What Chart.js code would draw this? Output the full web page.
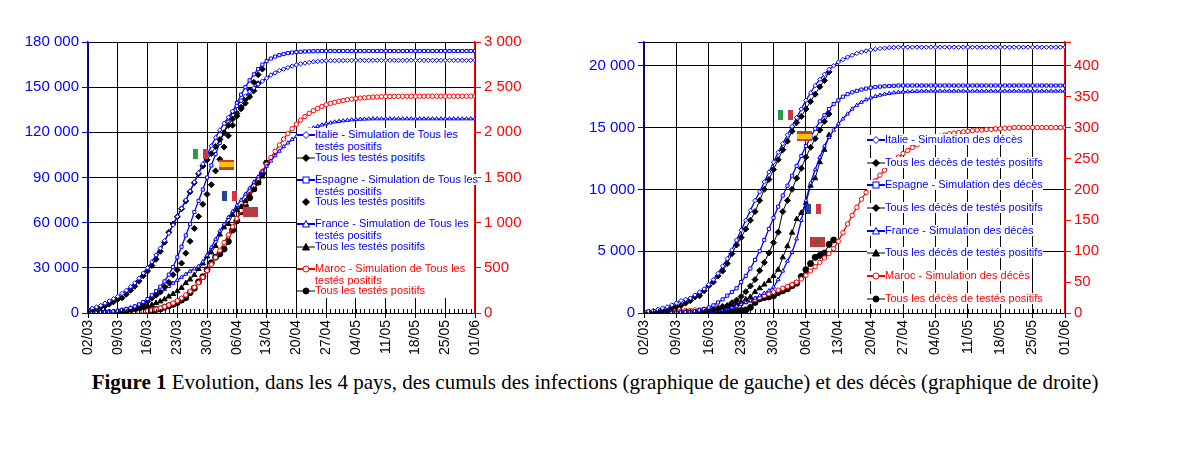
<!DOCTYPE html>
<html>
<head>
<meta charset="UTF-8">
<title>Figure 1</title>
<script src="https://cdn.jsdelivr.net/npm/chart.js"></script>
<style>
  body { margin: 0; background: #fff; width: 1190px; height: 460px; position: relative; overflow: hidden; font-family: Arial, "Liberation Sans", sans-serif; }
  .box { position: absolute; }
  .legend { position: absolute; font-size: 11px; line-height: 11px; }
  .legend div { position: absolute; white-space: nowrap; background: #fff; }
  .legend svg { display: block; }
  .flag { position: absolute; height: 10px; width: 15px; }
  #caption { position: absolute; left: 0; width: 1190px; top: 370px; text-align: center; font-family: "Liberation Serif", "Times New Roman", serif; font-size: 21px; }
</style>
</head>
<body>
<div class="box" style="left:0;top:30px;width:560px;height:340px"><canvas id="left"></canvas></div>
<div class="box" style="left:580px;top:30px;width:550px;height:340px"><canvas id="right"></canvas></div>
<div id="caption"><b>Figure 1</b> Evolution, dans les 4 pays, des cumuls des infections (graphique de gauche) et des décès (graphique de droite)</div>

<script>
// jours depuis le 02/03 ; étiquettes hebdomadaires
const weekLabels = ['02/03','09/03','16/03','23/03','30/03','06/04','13/04','20/04','27/04','04/05','11/05','18/05','25/05','01/06'];

// --- Infections (milliers, axe gauche) ---
const itSimCas = [2,3,4,5,6.5,8,9.5,11,13,15,17.5,20,23,26.5,30,34,38.5,43,48,53,58.5,64,69.5,75,81,87,93,99,105,111,116.5,121.5,126,130,134,137.5,141,144,147,149.5,152,154,156,158,159.5,161,162,163,164,164.8,165.5,166,166.4,166.8,167.1,167.3,167.5,167.6,167.6,167.7,167.7,167.7,167.8,167.8,167.8,167.8,167.8,167.8,167.8,167.8,167.8,167.8,167.8,167.8,167.8,167.8,167.8,167.8,167.8,167.8,167.8,167.8,167.8,167.8,167.8,167.8,167.8,167.8,167.8,167.8,167.8,167.8];
const itObsCas = [2.0,2.5,3.1,3.9,4.6,5.9,7.4,9.2,10.1,12.5,15.1,17.7,21.2,24.7,27.9,31.5,35.7,41.0,47.0,53.6,59.1,63.9,69.2,74.4,80.5,86.5,92.5,97.7,101.7,105.8,110.6,115.2,119.8,124.6,128.9,132.5,135.6,139.4,143.6,147.6,152.3];
const esSimCas = [0.1,0.2,0.3,0.4,0.6,0.8,1.1,1.5,2,2.6,3.4,4.4,5.7,7.3,9.3,11.8,14.5,17.5,21,25.5,30.5,37,44,51.5,59,67,74.5,82,90,98,105.5,113,120,127,133.5,139.5,145,150,154.5,158.5,162,165,167.3,169,170.3,171.3,172,172.6,173,173.3,173.5,173.7,173.8,173.9,173.9,174,174,174,174,174,174,174,174,174,174,174,174,174,174,174,174,174,174,174,174,174,174,174,174,174,174,174,174,174,174,174,174,174,174,174,174,174];
const esObsCas = [0.1,0.2,0.2,0.3,0.4,0.5,0.6,0.7,1.2,1.7,2.3,3.1,4.2,5.8,7.8,9.9,11.8,13.9,17.4,20.4,25.4,28.6,33.1,39.7,47.6,56.2,64.1,72.2,78.8,85.2,94.4,102.1,110.2,117.7,124.7,130.8,136.7,141.9,148.2,153.2,158.3,162.0];
const frSimCas = [0.2,0.3,0.4,0.5,0.7,0.9,1.2,1.6,2.1,2.7,3.5,4.4,5.5,6.8,8.3,10,11.8,13.7,15.7,17.7,19.8,21.8,23.8,25.8,27.8,29.3,31,34,38.5,43.5,49,54.5,59,63.5,67.5,71.5,75,79,83,87,90.5,94,97.5,101,104.5,107.5,110.5,113,115.3,117.3,119,120.5,121.8,123,124,124.9,125.7,126.3,126.9,127.3,127.7,128,128.3,128.5,128.7,128.8,128.9,129,129,129,129,129,129,129,129,129,129,129,129,129,129,129,129,129,129,129,129,129,129,129,129,129];
const frObsCas = [0.1,0.1,0.2,0.2,0.3,0.4,0.6,0.9,1.2,1.4,1.8,2.3,2.9,3.7,4.5,5.4,6.6,7.7,9.1,10.9,12.6,14.5,16.7,19.9,22.3,25.2,29.2,32.9,37.6,40.2,44.5,52.1,56.9,59.1,65.2,68.6,70.5,74.4,78.2,82.0,86.3,90.7];
// Maroc : unités de l'axe droit
const maSimCas = [0,0,0,0,0,1,1,2,2,3,5,8,12,17,24,32,42,55,70,88,110,135,165,200,240,285,335,395,470,540,615,695,780,865,955,1045,1135,1225,1315,1405,1490,1570,1645,1720,1790,1860,1925,1985,2040,2090,2135,2175,2210,2240,2265,2287,2305,2320,2333,2344,2353,2361,2368,2374,2379,2383,2387,2390,2392,2394,2396,2397,2398,2398,2399,2399,2399,2400,2400,2400,2400,2400,2400,2400,2400,2400,2400,2400,2400,2400,2400,2400];
const maObsCas = [1,1,1,2,2,2,2,2,2,2,3,5,6,8,18,28,38,44,63,79,96,115,143,170,225,275,345,402,479,556,617,654,708,791,919,1021,1120,1184,1275,1374,1448,1545,1661];

// --- Décès (milliers, axe gauche) ---
const itSimDc = [0.1,0.15,0.2,0.3,0.4,0.5,0.65,0.8,1.0,1.1,1.2,1.45,1.7,1.95,2.3,2.7,3.2,3.8,4.4,5.1,5.9,6.7,7.5,8.3,9.1,9.8,10.6,11.4,12.2,13,13.7,14.4,15.1,15.8,16.5,17.2,17.8,18.4,18.9,19.3,19.7,20.0,20.3,20.5,20.7,20.85,21.0,21.1,21.2,21.28,21.34,21.39,21.43,21.46,21.48,21.5,21.5,21.5,21.5,21.5,21.5,21.5,21.5,21.5,21.5,21.5,21.5,21.5,21.5,21.5,21.5,21.5,21.5,21.5,21.5,21.5,21.5,21.5,21.5,21.5,21.5,21.5,21.5,21.5,21.5,21.5,21.5,21.5,21.5,21.5,21.5,21.5];
const itObsDc = [0.05,0.08,0.1,0.15,0.2,0.2,0.4,0.5,0.6,0.8,1.0,1.3,1.4,1.8,2.2,2.5,3.0,3.4,4.0,4.8,5.5,6.1,6.8,7.5,8.2,9.1,10.0,10.8,11.6,12.4,13.2,13.9,14.7,15.4,15.9,16.5,17.1,17.7,18.3,18.8,19.5];
const esSimDc = [0,0,0,0,0.01,0.01,0.02,0.03,0.05,0.07,0.1,0.15,0.22,0.32,0.45,0.62,0.85,1.1,1.4,1.7,2.0,2.5,3.0,3.6,4.3,5.0,5.9,6.8,7.7,8.6,9.5,10.3,11.1,11.9,12.7,13.5,14.2,14.9,15.5,16.0,16.5,16.9,17.2,17.5,17.7,17.85,17.97,18.07,18.15,18.22,18.27,18.31,18.34,18.36,18.38,18.4,18.4,18.4,18.4,18.4,18.4,18.4,18.4,18.4,18.4,18.4,18.4,18.4,18.4,18.4,18.4,18.4,18.4,18.4,18.4,18.4,18.4,18.4,18.4,18.4,18.4,18.4,18.4,18.4,18.4,18.4,18.4,18.4,18.4,18.4,18.4,18.4];
const esObsDc = [0,0,0,0,0,0,0,0,0.01,0.02,0.03,0.05,0.08,0.1,0.19,0.29,0.34,0.53,0.6,0.83,1.04,1.33,1.72,2.18,2.7,3.43,4.09,4.86,5.69,6.53,8.2,9.1,10.0,10.9,11.7,12.6,13.4,14.1,14.8,15.5,16.1];
const frSimDc = [0,0,0,0,0,0,0,0,0,0,0.01,0.02,0.04,0.06,0.09,0.13,0.18,0.25,0.33,0.43,0.55,0.7,0.85,1.0,1.2,1.4,1.6,1.8,2.1,2.7,3.4,4.2,4.9,6.0,7.5,9.1,10.5,11.6,12.6,13.5,14.2,14.8,15.3,15.7,16.1,16.5,16.8,17.05,17.25,17.4,17.52,17.62,17.7,17.76,17.81,17.85,17.88,17.9,17.92,17.93,17.95,17.95,17.95,17.95,17.95,17.95,17.95,17.95,17.95,17.95,17.95,17.95,17.95,17.95,17.95,17.95,17.95,17.95,17.95,17.95,17.95,17.95,17.95,17.95,17.95,17.95,17.95,17.95,17.95,17.95,17.95,17.95];
const frObsDc = [0,0,0,0,0,0,0,0,0.01,0.02,0.03,0.05,0.06,0.08,0.13,0.18,0.24,0.37,0.45,0.56,0.67,0.86,1.1,1.3,1.7,2.0,2.3,2.6,3.0,3.5,4.5,5.4,6.5,7.6,8.1,8.9,10.3,10.9,12.2,13.2,14.4];
// Maroc : unités de l'axe droit
const maSimDc = [1,1,1,1,2,2,2,3,3,4,4,5,5,6,7,8,9,10,11,13,14,16,18,20,22,25,28,31,34,37,40,43,46,50,55,61,68,75,82,89,96,104,116,130,144,158,171,184,195,205,214,223,231,239,246,252,258,263,268,272,276,279,282,284,286,288,290,291,292,293,294,295,296,296,297,297,298,298,299,299,300,300,300,300,300,300,300,300,300,300,300,300];
const maObsDc = [0,0,0,0,0,0,0,0,0,0,0,1,1,1,1,1,1,1,2,2,3,4,5,9,17,23,25,26,28,33,36,39,44,48,59,70,80,90,93,97,111,118];

const BLUE = '#0000ff', RED = '#ff0000';
const pts = arr => arr.map((v, i) => ({ x: i, y: v }));

function sim(data, style, color, axis) {
  return { data: pts(data), yAxisID: axis, borderColor: color, borderWidth: 1.3, pointStyle: style,
    pointRadius: 2.2, pointBackgroundColor: '#fff', pointBorderColor: color, pointBorderWidth: 1, tension: 0 };
}
function obs(data, style, axis, line) {
  return { data: pts(data), yAxisID: axis, borderColor: '#000', borderWidth: 1, showLine: line, pointStyle: style,
    pointRadius: 3, pointBackgroundColor: '#000', pointBorderColor: '#000', tension: 0 };
}
const fmt = v => String(v).replace(/\B(?=(\d{3})+(?!\d))/g, ' ');
const onStep = (v, step) => Math.abs(v / step - Math.round(v / step)) < 1e-6;

// petits traits journaliers sur l'axe des x
const dayTicks = {
  id: 'dayTicks',
  afterDraw(chart) {
    const { ctx, scales: { x }, chartArea } = chart;
    ctx.save();
    ctx.strokeStyle = '#000';
    ctx.lineWidth = 1;
    ctx.beginPath();
    for (let d = 0; d <= 91; d++) {
      const px = Math.round(x.getPixelForValue(d)) + 0.5;
      ctx.moveTo(px, chartArea.bottom);
      ctx.lineTo(px, chartArea.bottom - 4);
    }
    ctx.stroke();
    ctx.restore();
  }
};

function makeChart(id, datasets, yMax, yStep, yScale, rMax, rStep, leftW, rightW) {
  new Chart(document.getElementById(id), {
    type: 'line',
    data: { datasets },
    plugins: [dayTicks],
    options: {
      responsive: true, maintainAspectRatio: false, animation: false,
      layout: { padding: { top: 10, left: 0, right: 0, bottom: 0 } },
      plugins: { legend: { display: false }, tooltip: { enabled: false } },
      scales: {
        x: {
          type: 'linear', min: 0, max: 91,
          afterBuildTicks: ax => { ax.ticks = weekLabels.map((l, i) => ({ value: i * 7 })); },
          ticks: { callback: (v) => weekLabels[v / 7], minRotation: 90, maxRotation: 90, color: '#000', font: { family: 'Arial', size: 14 }, padding: 2 },
          grid: { color: '#000', lineWidth: 1, tickLength: 5 },
          border: { color: '#000' },
          afterFit: s => { s.height = 57; }
        },
        y: {
          position: 'left', min: 0, max: yMax,
          ticks: { stepSize: yStep, color: BLUE, font: { family: 'Arial', size: 15 }, callback: v => onStep(v, yStep) ? fmt(Math.round(v * yScale)) : '' },
          grid: { color: '#000', lineWidth: 1, tickColor: BLUE, tickLength: 6 },
          border: { color: BLUE, width: 1.5 },
          afterFit: s => { s.width = leftW; }
        },
        y1: {
          position: 'right', min: 0, max: rMax,
          ticks: { stepSize: rStep, color: RED, font: { family: 'Arial', size: 15 }, callback: v => onStep(v, rStep) ? fmt(v) : '' },
          grid: { drawOnChartArea: false, color: RED, tickLength: 6 },
          border: { color: RED, width: 1.5 },
          afterFit: s => { s.width = rightW; }
        }
      }
    }
  });
}

makeChart('left', [
  sim(itSimCas, 'rectRot', BLUE, 'y'), obs(itObsCas, 'rectRot', 'y', true),
  sim(esSimCas, 'rect', BLUE, 'y'), obs(esObsCas, 'rectRot', 'y', false),
  sim(frSimCas, 'triangle', BLUE, 'y'), obs(frObsCas, 'triangle', 'y', true),
  sim(maSimCas, 'circle', RED, 'y1'), obs(maObsCas, 'circle', 'y1', true)
], 180, 30, 1000, 3000, 500, 88, 85);

makeChart('right', [
  sim(itSimDc, 'rectRot', BLUE, 'y'), obs(itObsDc, 'rectRot', 'y', true),
  sim(esSimDc, 'rect', BLUE, 'y'), obs(esObsDc, 'rectRot', 'y', true),
  sim(frSimDc, 'triangle', BLUE, 'y'), obs(frObsDc, 'triangle', 'y', true),
  sim(maSimDc, 'circle', RED, 'y1'), obs(maObsDc, 'circle', 'y1', true)
], 21.92, 5, 1000, 438.4, 50, 64, 65);

// légendes en HTML
function sym(kind, color) {
  const line = `<line x1="0" y1="5" x2="18" y2="5" stroke="${color}" stroke-width="${kind.open ? 2 : 1}"/>`;
  const fill = kind.open ? '#fff' : '#000';
  const sc = kind.open ? color : '#000';
  let m = '';
  if (kind.shape === 'diamond') m = `<polygon points="9,1.5 12.5,5 9,8.5 5.5,5" fill="${fill}" stroke="${sc}"/>`;
  if (kind.shape === 'square') m = `<rect x="6" y="2" width="6" height="6" fill="${fill}" stroke="${sc}"/>`;
  if (kind.shape === 'triangle') m = `<polygon points="9,1.5 12.5,8 5.5,8" fill="${fill}" stroke="${sc}"/>`;
  if (kind.shape === 'circle') m = `<circle cx="9" cy="5" r="3" fill="${fill}" stroke="${sc}"/>`;
  return `<svg width="18" height="10" viewBox="0 0 18 10">${kind.noLine ? '' : line}${m}</svg>`;
}
function legend(x, y, w, h, items, solid) {
  const el = document.createElement('div');
  el.className = 'legend';
  Object.assign(el.style, { left: x + 'px', top: y + 'px', width: w + 'px', height: h + 'px' });
  if (solid) el.style.background = '#fff';
  let html = '';
  items.forEach(it => {
    html += `<div style="left:0;top:${it.y - 5}px">${sym(it.kind, it.symColor)}</div>`;
    it.lines.forEach((t, k) => { html += `<div style="left:18px;top:${it.y - 6 + k * 12}px;color:${it.color}">${t}</div>`; });
  });
  el.innerHTML = html;
  document.body.appendChild(el);
}
const L = 'Tous les testés positifs';
legend(297, 128, 177, 170, [
  { y: 7, kind: { shape: 'diamond', open: true }, symColor: BLUE, color: BLUE, lines: ['Italie - Simulation de Tous les', 'testés positifs'] },
  { y: 30, kind: { shape: 'diamond' }, symColor: '#000', color: BLUE, lines: [L] },
  { y: 52, kind: { shape: 'square', open: true }, symColor: BLUE, color: BLUE, lines: ['Espagne - Simulation de Tous les', 'testés positifs'] },
  { y: 74, kind: { shape: 'diamond', noLine: true }, symColor: '#000', color: BLUE, lines: [L] },
  { y: 96, kind: { shape: 'triangle', open: true }, symColor: BLUE, color: BLUE, lines: ['France - Simulation de Tous les', 'testés positifs'] },
  { y: 119, kind: { shape: 'triangle' }, symColor: '#000', color: BLUE, lines: [L] },
  { y: 141, kind: { shape: 'circle', open: true }, symColor: RED, color: RED, lines: ['Maroc - Simulation de Tous les', 'testés positifs'] },
  { y: 163, kind: { shape: 'circle' }, symColor: '#000', color: RED, lines: [L] }
], true);
const D = 'Tous les décès de testés positifs';
legend(867, 133, 178, 172, [
  { y: 7, kind: { shape: 'diamond', open: true }, symColor: BLUE, color: BLUE, lines: ['Italie - Simulation des décès'] },
  { y: 30, kind: { shape: 'diamond' }, symColor: '#000', color: BLUE, lines: [D] },
  { y: 52, kind: { shape: 'square', open: true }, symColor: BLUE, color: BLUE, lines: ['Espagne - Simulation des décès'] },
  { y: 75, kind: { shape: 'diamond' }, symColor: '#000', color: BLUE, lines: [D] },
  { y: 98, kind: { shape: 'triangle', open: true }, symColor: BLUE, color: BLUE, lines: ['France - Simulation des décès'] },
  { y: 120, kind: { shape: 'triangle' }, symColor: '#000', color: BLUE, lines: [D] },
  { y: 143, kind: { shape: 'circle', open: true }, symColor: RED, color: RED, lines: ['Maroc - Simulation des décès'] },
  { y: 166, kind: { shape: 'circle' }, symColor: '#000', color: RED, lines: [D] }
], false);

// drapeaux
function flag(x, y, kind) {
  const el = document.createElement('div');
  el.className = 'flag';
  el.style.left = x + 'px'; el.style.top = y + 'px';
  if (kind === 'it') el.style.background = 'linear-gradient(90deg,#2e9a48 0 33%,#fff 33% 66%,#c8393f 66%)';
  if (kind === 'es') el.style.background = 'linear-gradient(#c8393f 0 25%,#f5c400 25% 75%,#c8393f 75%)';
  if (kind === 'fr') el.style.background = 'linear-gradient(90deg,#24449a 0 33%,#fff 33% 66%,#d8343f 66%)';
  if (kind === 'ma') el.style.background = 'radial-gradient(circle,#2a7a3a 0 1.5px,#c1373c 2px)';
  document.body.appendChild(el);
}
flag(193, 149, 'it'); flag(219, 160, 'es'); flag(222, 191, 'fr'); flag(243, 207, 'ma');
flag(778, 110, 'it'); flag(797, 131, 'es'); flag(806, 204, 'fr'); flag(810, 237, 'ma');
</script>
</body>
</html>
